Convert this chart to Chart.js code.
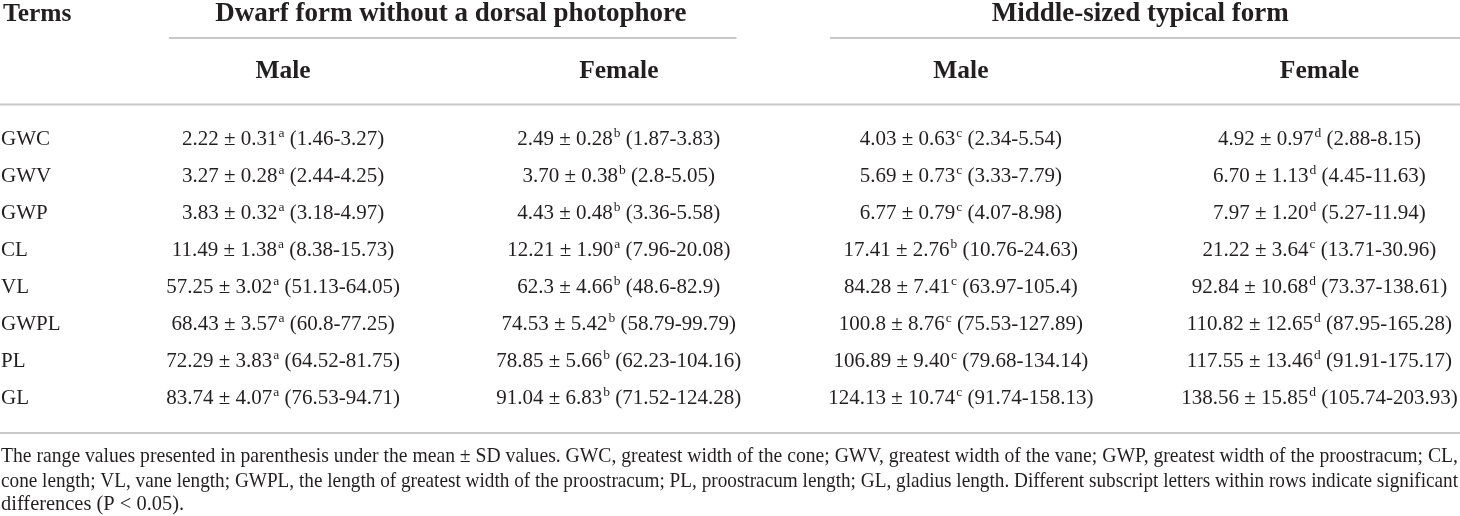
<!DOCTYPE html>
<html>
<head>
<meta charset="utf-8">
<script src="https://cdn.jsdelivr.net/npm/chart.js@4.4.1/dist/chart.umd.min.js"></script>
<style>
  html, body { margin: 0; padding: 0; background: #fff; }
  #wrap { width: 1460px; height: 516px; }
</style>
</head>
<body>
<div id="wrap"><canvas id="tbl" width="1460" height="516"></canvas></div>
<script>
// row and column labels
const terms = ['GWC', 'GWV', 'GWP', 'CL', 'VL', 'GWPL', 'PL', 'GL'];
const groups = ['Dwarf form without a dorsal photophore', 'Middle-sized typical form'];
const sexes = ['Male', 'Female', 'Male', 'Female'];

// dwarf form, male
const dwarfMaleMean = ['2.22', '3.27', '3.83', '11.49', '57.25', '68.43', '72.29', '83.74'];
const dwarfMaleSD = ['0.31', '0.28', '0.32', '1.38', '3.02', '3.57', '3.83', '4.07'];
const dwarfMaleSig = ['a', 'a', 'a', 'a', 'a', 'a', 'a', 'a'];
const dwarfMaleRange = ['1.46-3.27', '2.44-4.25', '3.18-4.97', '8.38-15.73', '51.13-64.05', '60.8-77.25', '64.52-81.75', '76.53-94.71'];

// dwarf form, female
const dwarfFemaleMean = ['2.49', '3.70', '4.43', '12.21', '62.3', '74.53', '78.85', '91.04'];
const dwarfFemaleSD = ['0.28', '0.38', '0.48', '1.90', '4.66', '5.42', '5.66', '6.83'];
const dwarfFemaleSig = ['b', 'b', 'b', 'a', 'b', 'b', 'b', 'b'];
const dwarfFemaleRange = ['1.87-3.83', '2.8-5.05', '3.36-5.58', '7.96-20.08', '48.6-82.9', '58.79-99.79', '62.23-104.16', '71.52-124.28'];

// middle-sized form, male
const midMaleMean = ['4.03', '5.69', '6.77', '17.41', '84.28', '100.8', '106.89', '124.13'];
const midMaleSD = ['0.63', '0.73', '0.79', '2.76', '7.41', '8.76', '9.40', '10.74'];
const midMaleSig = ['c', 'c', 'c', 'b', 'c', 'c', 'c', 'c'];
const midMaleRange = ['2.34-5.54', '3.33-7.79', '4.07-8.98', '10.76-24.63', '63.97-105.4', '75.53-127.89', '79.68-134.14', '91.74-158.13'];

// middle-sized form, female
const midFemaleMean = ['4.92', '6.70', '7.97', '21.22', '92.84', '110.82', '117.55', '138.56'];
const midFemaleSD = ['0.97', '1.13', '1.20', '3.64', '10.68', '12.65', '13.46', '15.85'];
const midFemaleSig = ['d', 'd', 'd', 'c', 'd', 'd', 'd', 'd'];
const midFemaleRange = ['2.88-8.15', '4.45-11.63', '5.27-11.94', '13.71-30.96', '73.37-138.61', '87.95-165.28', '91.91-175.17', '105.74-203.93'];

const footnote = [
  'The range values presented in parenthesis under the mean \u00b1 SD values. GWC, greatest width of the cone; GWV, greatest width of the vane; GWP, greatest width of the proostracum; CL,',
  'cone length; VL, vane length; GWPL, the length of greatest width of the proostracum; PL, proostracum length; GL, gladius length. Different subscript letters within rows indicate significant',
  'differences (P < 0.05).'
];

// layout: where each column sits on the x scale (columns are not evenly spaced)
const COL_X = [1, 1.97, 2.958, 3.994];

const INK = '#231f20';
const RULE = '#c8c8c8';
const SERIF = '"Liberation Serif", "DejaVu Serif", serif';

function makeColumn(col, mean, sd, sig, range) {
  return {
    label: sexes[col],
    data: terms.map((t, i) => ({ x: COL_X[col], y: t, mean: mean[i], sd: sd[i], sig: sig[i], range: range[i] })),
    pointRadius: 0,
    pointHoverRadius: 0
  };
}

function drawCell(ctx, cx, cy, d) {
  const main = d.mean + ' \u00b1 ' + d.sd;
  const tail = ' (' + d.range + ')';
  ctx.font = '21px ' + SERIF;
  const w1 = ctx.measureText(main).width;
  const w3 = ctx.measureText(tail).width;
  ctx.font = '13.5px ' + SERIF;
  const w2 = ctx.measureText(d.sig).width + 1;
  let x = cx - (w1 + w2 + w3) / 2;
  const base = cy + 7;
  ctx.textAlign = 'left';
  ctx.textBaseline = 'alphabetic';
  ctx.font = '21px ' + SERIF;
  ctx.fillText(main, x, base);
  x += w1 + 1;
  ctx.font = '13.5px ' + SERIF;
  ctx.fillText(d.sig, x, base - 8);
  x += w2 - 1;
  ctx.font = '21px ' + SERIF;
  ctx.fillText(tail, x, base);
}

function rule(ctx, x0, x1, y) {
  ctx.beginPath();
  ctx.moveTo(x0, y);
  ctx.lineTo(x1, y);
  ctx.stroke();
}

const tablePlugin = {
  id: 'tablePlugin',
  afterDraw(chart) {
    const ctx = chart.ctx;
    const xs = chart.scales.x;
    const ys = chart.scales.y;
    const W = chart.width;
    ctx.save();
    ctx.fillStyle = INK;

    // header
    ctx.textBaseline = 'alphabetic';
    ctx.font = 'bold 25.5px ' + SERIF;
    ctx.textAlign = 'left';
    ctx.fillText('Terms', 3, 21);
    ctx.textAlign = 'center';
    sexes.forEach((s, i) => ctx.fillText(s, xs.getPixelForValue(COL_X[i]), 78));
    ctx.font = 'bold 27px ' + SERIF;
    ctx.fillText(groups[0], xs.getPixelForValue((COL_X[0] + COL_X[1]) / 2), 21);
    ctx.fillText(groups[1], xs.getPixelForValue((COL_X[2] + COL_X[3]) / 2), 21);

    // rules
    ctx.strokeStyle = RULE;
    ctx.lineWidth = 2;
    rule(ctx, xs.getPixelForValue(0.67), xs.getPixelForValue(2.31), 38);
    rule(ctx, xs.getPixelForValue(2.58), W, 38);
    rule(ctx, 0, W, 104.5);
    rule(ctx, 0, W, 433);

    // row labels (Terms column), placed by the y scale
    ctx.font = '21px ' + SERIF;
    ctx.textAlign = 'left';
    terms.forEach((t) => ctx.fillText(t, 1, ys.getPixelForValue(t) + 7));

    // cells
    chart.data.datasets.forEach((ds, di) => {
      const meta = chart.getDatasetMeta(di);
      meta.data.forEach((pt, i) => drawCell(ctx, pt.x, pt.y, ds.data[i]));
    });

    // footnote, justified lines
    ctx.font = '22px ' + SERIF;
    ctx.textAlign = 'left';
    const target = W - 3;
    let k0 = 1;
    footnote.forEach((line, i) => {
      const w = ctx.measureText(line).width;
      const k = i < footnote.length - 1 ? target / w : k0 * 1.04;
      if (i === 0) k0 = k;
      ctx.save();
      ctx.translate(1, [462, 486.5, 510][i]);
      ctx.scale(k, 1);
      ctx.fillText(line, 0, 0);
      ctx.restore();
    });
    ctx.restore();
  }
};

new Chart(document.getElementById('tbl'), {
  type: 'scatter',
  data: {
    datasets: [
      makeColumn(0, dwarfMaleMean, dwarfMaleSD, dwarfMaleSig, dwarfMaleRange),
      makeColumn(1, dwarfFemaleMean, dwarfFemaleSD, dwarfFemaleSig, dwarfFemaleRange),
      makeColumn(2, midMaleMean, midMaleSD, midMaleSig, midMaleRange),
      makeColumn(3, midFemaleMean, midFemaleSD, midFemaleSig, midFemaleRange)
    ]
  },
  options: {
    responsive: false,
    animation: false,
    events: [],
    layout: { padding: { top: 119, bottom: 100.5, left: 2, right: 0 } },
    plugins: { legend: { display: false }, tooltip: { enabled: false } },
    scales: {
      x: { type: 'linear', min: 0.5, max: 4.4, display: false },
      y: {
        type: 'category',
        labels: terms,
        offset: true,
        grid: { display: false },
        border: { display: false },
        ticks: { display: false },
        afterFit: (scale) => { scale.width = 108; }
      }
    }
  },
  plugins: [tablePlugin]
});
</script>
</body>
</html>
